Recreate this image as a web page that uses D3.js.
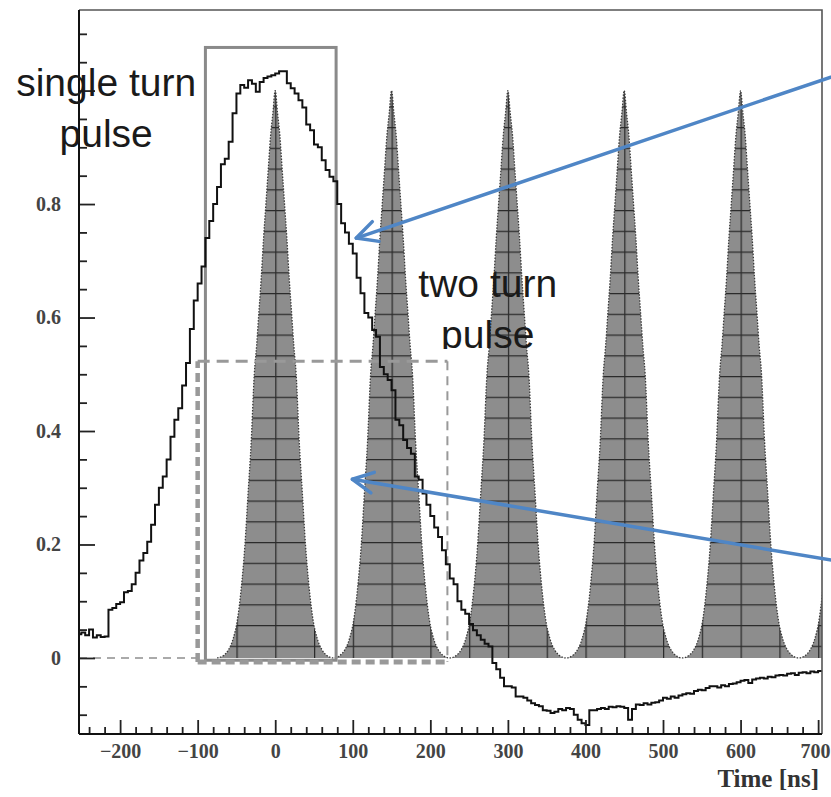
<!DOCTYPE html>
<html><head><meta charset="utf-8">
<script src="https://cdn.jsdelivr.net/npm/d3@7"></script>
<style>body{margin:0;background:#fff} svg{display:block}</style>
</head><body><svg id="c" width="831" height="797"></svg>
<script>
// ---------- data ----------
const histStart = -255, histBinWidth = 5;
const histValues = [
  0.042,0.045,0.040,0.050,0.036,0.040,0.037,0.038,0.085,0.088,
  0.095,0.098,0.116,0.118,0.130,0.150,0.172,0.185,0.205,0.235,
  0.270,0.300,0.320,0.350,0.390,0.420,0.440,0.480,0.520,0.580,
  0.630,0.660,0.690,0.740,0.770,0.800,0.830,0.870,0.880,0.910,
  0.960,0.995,1.010,1.005,1.018,1.012,0.998,1.015,1.022,1.025,
  1.027,1.030,1.034,1.034,1.013,1.004,0.995,0.983,0.970,0.940,
  0.930,0.905,0.900,0.877,0.860,0.848,0.840,0.800,0.766,0.750,
  0.730,0.713,0.670,0.643,0.608,0.600,0.578,0.566,0.513,0.500,
  0.490,0.472,0.420,0.410,0.384,0.370,0.360,0.320,0.314,0.290,
  0.270,0.250,0.230,0.213,0.190,0.165,0.140,0.130,0.100,0.085,
  0.078,0.060,0.049,0.040,0.032,0.025,0.020,-0.009,-0.020,-0.035,
  -0.050,-0.050,-0.052,-0.068,-0.068,-0.070,-0.075,-0.080,-0.083,-0.085,
  -0.092,-0.093,-0.097,-0.095,-0.090,-0.092,-0.088,-0.090,-0.100,-0.109,
  -0.115,-0.118,-0.092,-0.092,-0.090,-0.088,-0.090,-0.086,-0.087,-0.085,
  -0.086,-0.088,-0.109,-0.090,-0.082,-0.083,-0.080,-0.082,-0.079,-0.078,
  -0.075,-0.070,-0.072,-0.068,-0.070,-0.066,-0.064,-0.062,-0.063,-0.058,
  -0.056,-0.057,-0.053,-0.050,-0.050,-0.052,-0.048,-0.050,-0.046,-0.045,
  -0.043,-0.040,-0.039,-0.044,-0.038,-0.036,-0.035,-0.036,-0.033,-0.034,
  -0.031,-0.030,-0.031,-0.028,-0.027,-0.030,-0.026,-0.025,-0.027,-0.024,
  -0.025,-0.023
];
const pulseCenters = [0,150,300,450,600,750];
const pulseOffsets = [0,3,6,9,12,15,18,21,24,27,31,35,39,44,49,54,60,66,75];
const pulseShape   = [1.00,0.96,0.92,0.86,0.80,0.74,0.67,0.61,0.55,0.50,0.38,0.29,0.20,0.12,0.065,0.035,0.015,0.005,0];
const xMajorTicks = [-200,-100,0,100,200,300,400,500,600,700];
const yMajorTicks = [0,0.2,0.4,0.6,0.8,1.0];
const yLabelTicks = [0,0.2,0.4,0.6,0.8];
const xTitle = "Time [ns]";
const labels = [
  {lines:["single turn","pulse"], t:-218, v:0.990, clip:false},
  {lines:["two turn","pulse"], t:274, v:0.636, clip:true}
];
const singleBox = {t0:-90, t1:78.5, v0:-0.004, v1:1.076};
const twoBox = {t0:-100, t1:222, v0:-0.007, v1:0.523};
const arrows = [
  {from:[732, 1.031], to:[104.5, 0.740]},
  {from:[732, 0.169], to:[99.5, 0.315]}
];

// ---------- scales ----------
const W = 831, H = 797;
const x = d3.scaleLinear().domain([-253, 705]).range([79, 822]);
const y = d3.scaleLinear().domain([-0.134, 1.142]).range([734, 10]);
const svg = d3.select("#c");
const defs = svg.append("defs");
defs.append("clipPath").attr("id","plot").append("rect")
  .attr("x",79).attr("y",10).attr("width",743).attr("height",724);

// hatch pattern for pulses
const pw = x(50) - x(0), ph = 20.75;
const pat = defs.append("pattern").attr("id","hatch").attr("patternUnits","userSpaceOnUse")
  .attr("x", x(0)).attr("y", 2.5).attr("width", pw).attr("height", ph);
pat.append("rect").attr("width",pw).attr("height",ph).attr("fill","#8d8d8d");
pat.append("line").attr("x1",0).attr("x2",pw).attr("y1",0.6).attr("y2",0.6)
  .attr("stroke","#2b2b2b").attr("stroke-width",1.3);
pat.append("line").attr("x1",0.6).attr("x2",0.6).attr("y1",0).attr("y2",ph)
  .attr("stroke","#2b2b2b").attr("stroke-width",1.3);

const plot = svg.append("g").attr("clip-path","url(#plot)");

// zero dashed line left of boxes
plot.append("line").attr("x1",x(-253)).attr("x2",x(twoBox.t0)).attr("y1",y(0)).attr("y2",y(0))
  .attr("stroke","#aaa").attr("stroke-width",2).attr("stroke-dasharray","8,6");

// pulses
const pulsePts = [];
pulseCenters.forEach(c => {
  for (let i = pulseOffsets.length-1; i >= 1; i--) pulsePts.push([c - pulseOffsets[i], pulseShape[i]]);
  for (let i = 0; i < pulseOffsets.length; i++) pulsePts.push([c + pulseOffsets[i], pulseShape[i]]);
});
const area = d3.area().x(d=>x(d[0])).y0(y(0)).y1(d=>y(d[1])).curve(d3.curveMonotoneX);
const line = d3.line().x(d=>x(d[0])).y(d=>y(d[1])).curve(d3.curveMonotoneX);
plot.append("path").attr("d", area(pulsePts)).attr("fill","url(#hatch)");
plot.append("path").attr("d", line(pulsePts)).attr("fill","none")
  .attr("stroke","#3a3a3a").attr("stroke-width",1.3).attr("stroke-dasharray","1.5,1.5");

// single-turn box (solid)
plot.append("rect").attr("x",x(singleBox.t0)).attr("y",y(singleBox.v1))
  .attr("width",x(singleBox.t1)-x(singleBox.t0)).attr("height",y(singleBox.v0)-y(singleBox.v1))
  .attr("fill","none").attr("stroke","#8a8a8a").attr("stroke-width",3);

// two-turn box (dashed)
const tb = plot.append("g").attr("stroke","#999").attr("fill","none");
tb.append("line").attr("x1",x(twoBox.t0)).attr("x2",x(twoBox.t0)).attr("y1",y(twoBox.v0)).attr("y2",y(twoBox.v1))
  .attr("stroke-width",4.5).attr("stroke-dasharray","9,5");
tb.append("line").attr("x1",x(twoBox.t0)).attr("x2",x(twoBox.t1)).attr("y1",y(twoBox.v1)).attr("y2",y(twoBox.v1))
  .attr("stroke-width",3).attr("stroke-dasharray","12,7");
tb.append("line").attr("x1",x(twoBox.t1)).attr("x2",x(twoBox.t1)).attr("y1",y(twoBox.v1)).attr("y2",y(twoBox.v0))
  .attr("stroke-width",2).attr("stroke-dasharray","9,6");
tb.append("line").attr("x1",x(twoBox.t0)).attr("x2",x(twoBox.t1)).attr("y1",y(twoBox.v0)).attr("y2",y(twoBox.v0))
  .attr("stroke-width",5).attr("stroke-dasharray","9,5");

// histogram (step line)
const histPts = histValues.map((v,i)=>[histStart + i*histBinWidth, v]);
histPts.push([histStart + histValues.length*histBinWidth, histValues[histValues.length-1]]);
const step = d3.line().x(d=>x(d[0])).y(d=>y(d[1])).curve(d3.curveStepAfter);
plot.append("path").attr("d", step(histPts)).attr("fill","none")
  .attr("stroke","#111").attr("stroke-width",2).attr("stroke-linejoin","miter");

// frame top/right
svg.append("path").attr("d",`M79,10H822V734`).attr("fill","none").attr("stroke","#555").attr("stroke-width",1.6);

// axes
const axisFont = "'Liberation Serif','Times New Roman',serif";
const yMinor = d3.range(-0.1, 1.1001, 0.05).map(v=>+v.toFixed(2)).filter(v=>Math.abs(v*5-Math.round(v*5))>1e-6);
const xMinor = d3.range(-240, 701, 20).filter(v=>v%100!==0);

const gy = svg.append("g").attr("transform","translate(79,0)");
gy.append("g").call(d3.axisRight(y).tickValues(yMinor).tickSize(8).tickSizeOuter(0).tickFormat(""));
gy.append("g").call(d3.axisRight(y).tickValues(yMajorTicks).tickSize(16).tickSizeOuter(0).tickFormat(""));
const gyl = gy.append("g").call(d3.axisLeft(y).tickValues(yLabelTicks).tickSize(0).tickPadding(18)
  .tickFormat(d=> d===0 ? "0" : d3.format(".1f")(d)));
gy.selectAll(".domain").remove();
gy.selectAll("line").attr("stroke","#222").attr("stroke-width",1.8);
gyl.selectAll("text").attr("font-family",axisFont).attr("font-size",20).attr("font-weight","bold").attr("fill","#444");
gy.append("line").attr("x1",0).attr("x2",0).attr("y1",10).attr("y2",734).attr("stroke","#111").attr("stroke-width",2);

const gx = svg.append("g").attr("transform","translate(0,734)");
gx.append("g").call(d3.axisTop(x).tickValues(xMinor).tickSize(7).tickSizeOuter(0).tickFormat(""));
gx.append("g").call(d3.axisTop(x).tickValues(xMajorTicks).tickSize(14).tickSizeOuter(0).tickFormat(""));
const gxl = gx.append("g").call(d3.axisBottom(x).tickValues(xMajorTicks).tickSize(0).tickPadding(10).tickFormat(d3.format("d")));
gx.selectAll(".domain").remove();
gx.selectAll("line").attr("stroke","#222").attr("stroke-width",1.8);
gxl.selectAll("text").attr("font-family",axisFont).attr("font-size",20).attr("font-weight","bold").attr("fill","#444");
// keep the last label inside the page
gxl.selectAll(".tick").filter(d=>d===700).select("text").attr("text-anchor","end").attr("x",830 - x(700));
gx.append("line").attr("x1",79).attr("x2",822).attr("y1",0).attr("y2",0).attr("stroke","#111").attr("stroke-width",2);

svg.append("text").attr("x",819).attr("y",787).attr("text-anchor","end")
  .attr("font-family",axisFont).attr("font-size",25).attr("font-weight","bold").attr("fill","#333").text(xTitle);

// annotation labels
defs.append("clipPath").attr("id","clipTwo").append("rect").attr("x",0).attr("y",0).attr("width",W).attr("height",349);
labels.forEach(l=>{
  const g = svg.append("g");
  if (l.clip) g.attr("clip-path","url(#clipTwo)");
  l.lines.forEach((s,i)=>{
    g.append("text").attr("x",x(l.t)).attr("y",y(l.v)+i*51).attr("text-anchor","middle")
      .attr("font-family","'Liberation Sans',Arial,Helvetica,sans-serif").attr("font-size",39)
      .attr("fill","#1a1a1a").text(s);
  });
});

// blue arrows
arrows.forEach(a=>{
  const x1 = x(a.from[0]), y1 = y(a.from[1]), x2 = x(a.to[0]), y2 = y(a.to[1]);
  const ang = Math.atan2(y1-y2, x1-x2), L = 23, sp = 0.47;
  const g = svg.append("g").attr("stroke","#4f86c6").attr("stroke-width",3.5).attr("stroke-linecap","round").attr("fill","none");
  g.append("line").attr("x1",x1).attr("y1",y1).attr("x2",x2).attr("y2",y2);
  g.append("path").attr("stroke-linejoin","round").attr("d",
    `M${x2+L*Math.cos(ang-sp)},${y2+L*Math.sin(ang-sp)}L${x2},${y2}L${x2+L*Math.cos(ang+sp)},${y2+L*Math.sin(ang+sp)}`);
});
</script></body></html>
